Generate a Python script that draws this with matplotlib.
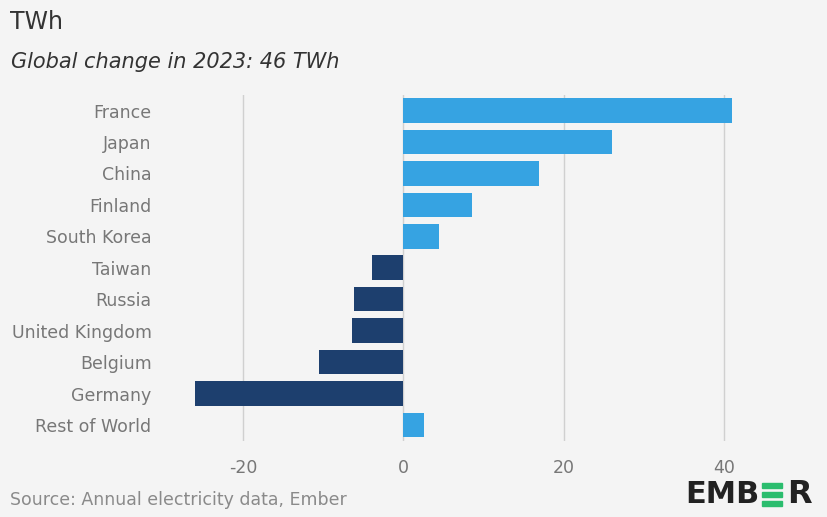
import matplotlib
matplotlib.use("Agg")
import matplotlib.pyplot as plt
from matplotlib.patches import Rectangle

# Nuclear generation change 2023 by country (TWh)
countries = ["France", "Japan", "China", "Finland", "South Korea", "Taiwan",
             "Russia", "United Kingdom", "Belgium", "Germany", "Rest of World"]
change = [41.0, 26.0, 16.9, 8.6, 4.4, -3.9, -6.1, -6.4, -10.5, -26.0, 2.6]
xticks = [-20, 0, 20, 40]

bg = "#f4f4f4"
light_blue = "#36a3e2"
navy = "#1d3f6e"

plt.rcParams['font.family'] = ['DejaVu Sans']

fig = plt.figure(figsize=(8.27, 5.17), dpi=100, facecolor=bg)
ax = fig.add_axes([162.7 / 827, 1 - 440.7 / 517, (804.3 - 162.7) / 827, 345.9 / 517])
ax.set_facecolor(bg)

colors = [light_blue if v >= 0 else navy for v in change]
ax.barh(range(len(countries)), change, height=0.78, color=colors, zorder=3)

ax.set_xlim(-30, 50)
ax.set_ylim(len(countries) - 0.5, -0.5)
ax.set_xticks(xticks)
ax.set_xticklabels([str(t) for t in xticks])
ax.set_yticks(range(len(countries)))
ax.set_yticklabels(countries, va='center_baseline')
ax.tick_params(axis='both', length=0, colors="#777777", labelsize=12.5)
ax.tick_params(axis='y', pad=8)
ax.tick_params(axis='x', pad=13)
ax.grid(axis='x', color="#d0d0d0", linewidth=1, zorder=0)
for s in ax.spines.values():
    s.set_visible(False)

# titles
fig.text(10 / 827, 1 - 22 / 517, "TWh", fontsize=17, color="#333333", va='center', ha='left')
fig.text(11 / 827, 1 - 62 / 517, "Global change in 2023: 46 TWh", fontsize=15,
         style='italic', color="#333333", va='center', ha='left')

# source
fig.text(10 / 827, 1 - 500 / 517, "Source: Annual electricity data, Ember", fontsize=12.5,
         color="#8a8a8a", va='center', ha='left')

# Ember logo
fig.text(685 / 827, 1 - 494.5 / 517, "EMB", fontsize=22, fontweight='bold', color="#222222",
         va='center', ha='left')
for yy in [483, 492, 501]:
    fig.patches.append(Rectangle((762 / 827, 1 - (yy + 5) / 517), 20 / 827, 5 / 517,
                                 transform=fig.transFigure, color="#2bbd6e"))
fig.text(787 / 827, 1 - 494.5 / 517, "R", fontsize=23, fontweight='bold', color="#222222",
         va='center', ha='left')

fig.savefig("out.png", dpi=100, facecolor=bg)
